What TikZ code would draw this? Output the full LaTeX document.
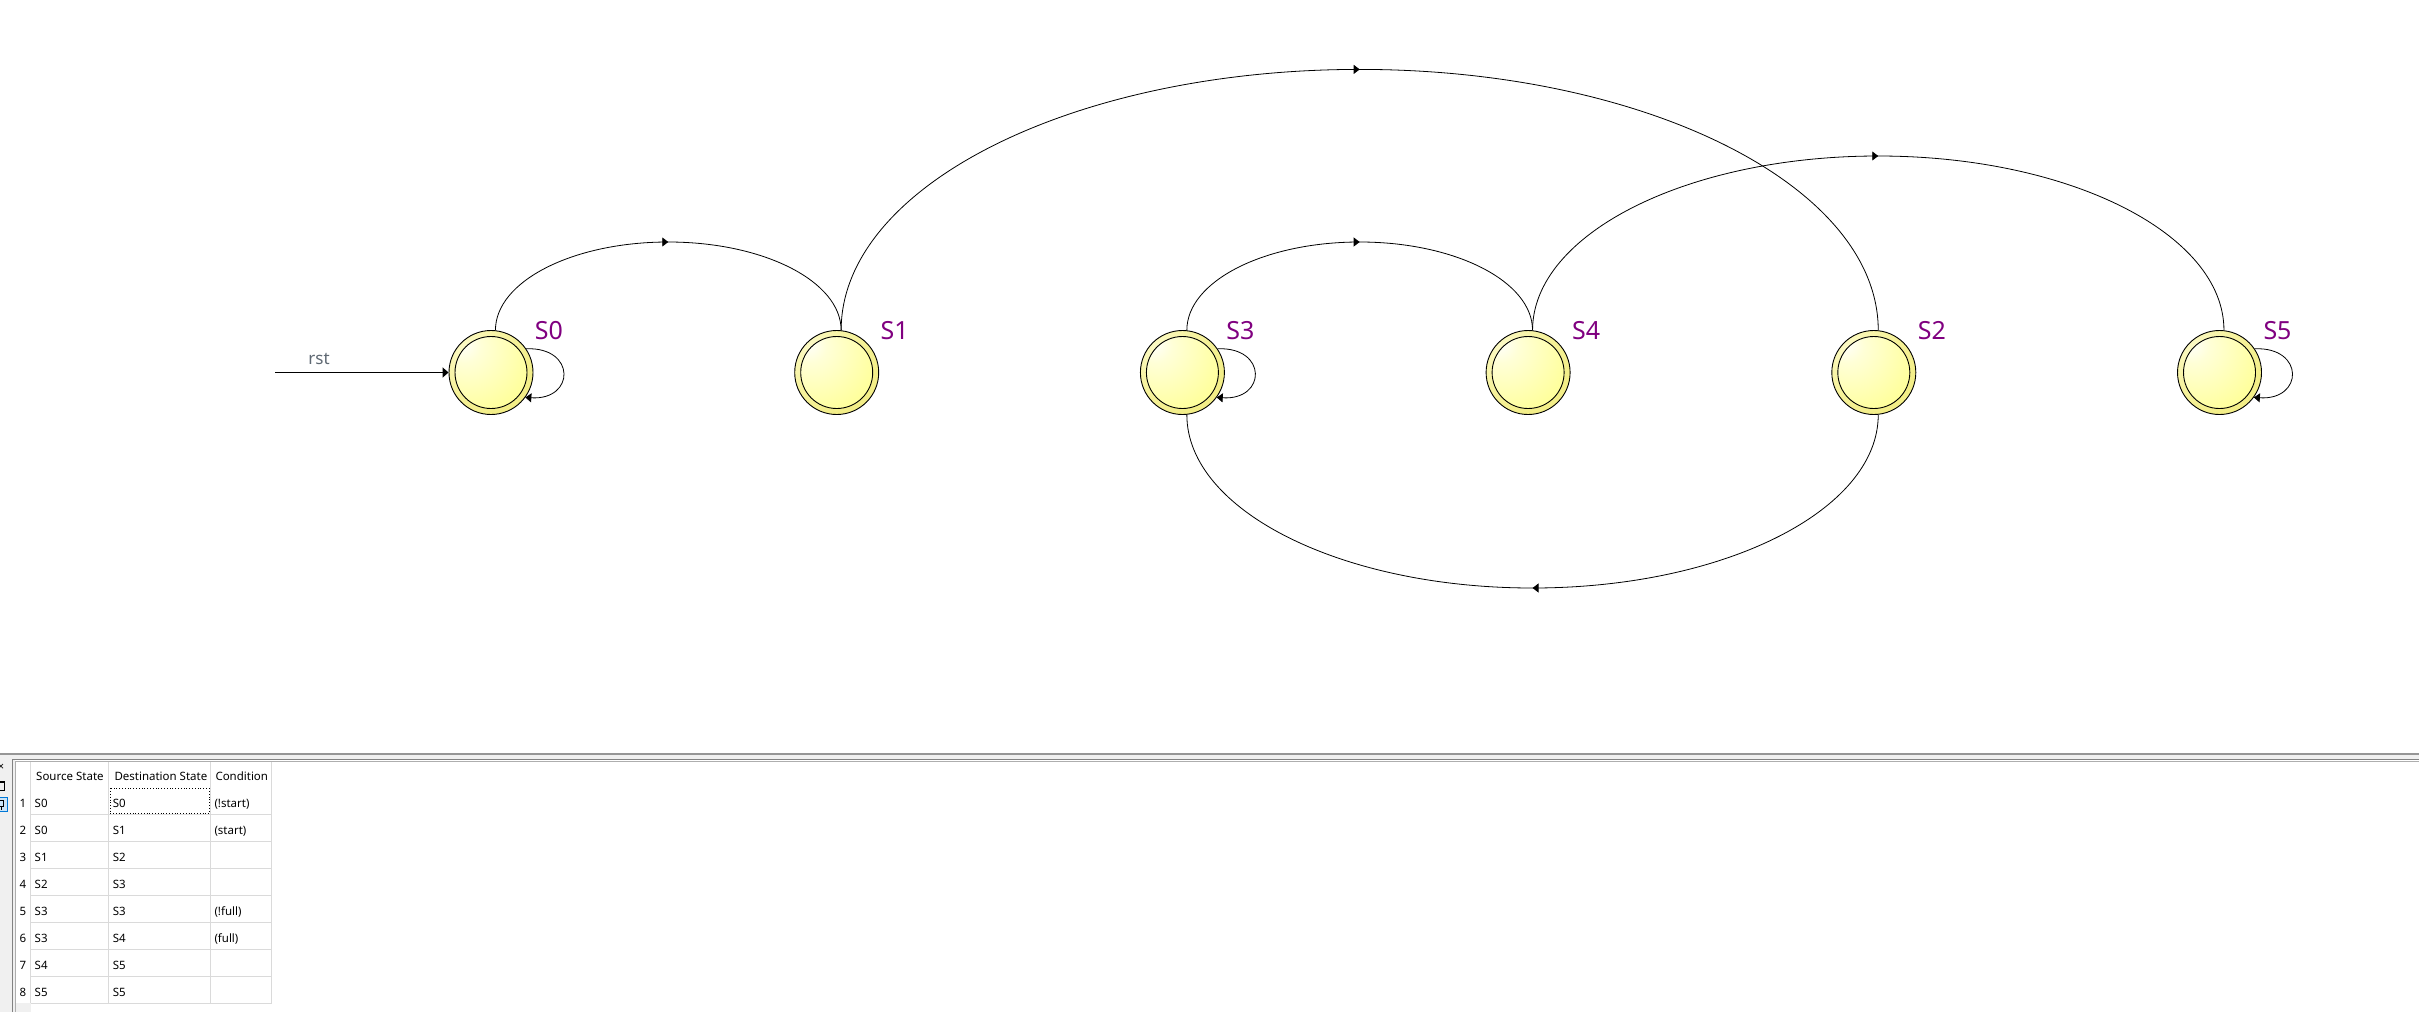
\documentclass[tikz,border=0pt]{standalone}
\usepackage{fontspec}
\setmainfont{Noto Sans}
\usetikzlibrary{arrows.meta,decorations.markings}
\definecolor{purp}{RGB}{128,0,128}
\definecolor{ring}{RGB}{243,238,135}
\definecolor{ringlite}{RGB}{252,250,200}
\definecolor{yel}{RGB}{255,255,150}
\definecolor{yellite}{RGB}{255,255,215}
\definecolor{rstc}{RGB}{95,105,115}
\definecolor{gridc}{RGB}{218,218,218}
\definecolor{panel}{RGB}{240,240,240}
\definecolor{sepdark}{RGB}{150,150,150}
\definecolor{sepmid}{RGB}{130,130,130}
\definecolor{selblue}{RGB}{204,228,247}
\definecolor{selborder}{RGB}{0,120,215}
\pgfdeclareradialshading{ball}{\pgfpoint{-18bp}{18bp}}{color(0bp)=(white); color(10bp)=(yellite); color(38bp)=(yel); color(90bp)=(yel)}
\pgfdeclareradialshading{ringball}{\pgfpoint{-15bp}{15bp}}{color(0bp)=(ringlite); color(35bp)=(ring); color(90bp)=(ring)}
\begin{document}
\begin{tikzpicture}[x=1pt,y=-1pt,
  state/.style={circle, draw=black, line width=0.9pt, minimum size=84pt, inner sep=0pt,
    shade, shading=ringball,
    path picture={\shade[shading=ball] (path picture bounding box.center) circle[radius=36pt];
                  \draw[black,line width=0.9pt] (path picture bounding box.center) circle[radius=36pt];}},
  slabel/.style={text=purp, inner sep=0pt, font=\fontsize{25}{30}\selectfont},
  trans/.style={draw=black, line width=0.8pt, postaction={decorate},
    decoration={markings, mark=at position 0.5 with {\arrow{Triangle[length=6pt,width=9pt]}}}},
  selfloop/.style={draw=black, line width=0.8pt, -{Triangle[length=6pt,width=9pt]}},
  rstline/.style={draw=black, line width=1.8pt, -{Triangle[length=6pt,width=10pt]}},
  cell/.style={anchor=base west, inner sep=0pt, font=\fontsize{11.5}{13}\selectfont},
  num/.style={anchor=base, inner sep=0pt, font=\fontsize{11.5}{13}\selectfont},
  gridline/.style={draw=gridc, line width=1pt}
]
\useasboundingbox (0,0) rectangle (2419,1012);
\fill[white] (0,0) rectangle (2419,1012);

% states
\node[state] (s0) at (491,372.5) {};
\node[state] (s1) at (836.7,372.5) {};
\node[state] (s3) at (1182.4,372.5) {};
\node[state] (s4) at (1528.1,372.5) {};
\node[state] (s2) at (1873.8,372.5) {};
\node[state] (s5) at (2219.5,372.5) {};

\node[slabel] (l0) at (549,331) {S0};
\node[slabel] (l1) at (894.7,331) {S1};
\node[slabel] (l3) at (1240.4,331) {S3};
\node[slabel] (l4) at (1586.1,331) {S4};
\node[slabel] (l2) at (1931.8,331) {S2};
\node[slabel] (l5) at (2277.5,331) {S5};

% reset
\coordinate (rstin) at (275,372.5);
\draw[rstline] (rstin) -- (s0.west);
\node[anchor=base, inner sep=0pt, text=rstc, font=\fontsize{17}{20}\selectfont] (rst) at (319,364) {rst};

% arc midpoints
\coordinate (m01) at (668.2,242);
\coordinate (m12) at (1359.6,69.4);
\coordinate (m34) at (1359.6,242);
\coordinate (m45) at (1878.2,156);
\coordinate (m23) at (1532.5,588);

\path[trans] (s0.84) .. controls +(0,-49) and +(-95.5,0) .. (m01) .. controls +(95.5,0) and +(0,-49) .. (s1.84);
\path[trans] (s1.84) .. controls +(0,-144.3) and +(-286.4,0) .. (m12) .. controls +(286.4,0) and +(0,-144.3) .. (s2.84);
\path[trans] (s3.84) .. controls +(0,-49) and +(-95.5,0) .. (m34) .. controls +(95.5,0) and +(0,-49) .. (s4.84);
\path[trans] (s4.84) .. controls +(0,-96.5) and +(-190.9,0) .. (m45) .. controls +(190.9,0) and +(0,-96.5) .. (s5.84);
\path[trans] (s2.-84) .. controls +(0,95.9) and +(190.9,0) .. (m23) .. controls +(-190.9,0) and +(0,95.9) .. (s3.-84);

% self loops
\draw[selfloop] (s0.34) .. controls +(50,-2) and +(50,3) .. (s0.-36);
\draw[selfloop] (s3.34) .. controls +(50,-2) and +(50,3) .. (s3.-36);
\draw[selfloop] (s5.34) .. controls +(50,-2) and +(50,3) .. (s5.-36);

% separator and panel
\fill[panel] (0,754.5) rectangle (2419,759);
\draw[sepdark, line width=2pt] (0,753.5) -- (2419,753.5);
\fill[panel] (0,759) rectangle (12.3,1012);
\draw[sepmid, line width=1pt] (12.3,1012) -- (12.3,759.5) -- (2419,759.5);
\fill[panel] (12.8,760) rectangle (15,1012);
\draw[gridc!80!black, line width=1pt] (15,1012) -- (15,761.7) -- (2419,761.7);
\fill[panel] (15.5,1003.3) rectangle (30.7,1012);

% tiny toolbar icons (cut off at the left edge)
\node[inner sep=0pt, font=\fontsize{11}{12}\selectfont\bfseries] (ix) at (1,767) {×};
\draw[black, line width=1pt] (-4,781) rectangle (4,790);
\draw[black, line width=2pt] (-4,782) -- (4,782);
\draw[selborder, fill=selblue, line width=0.8pt] (-3,797) rectangle (7.5,811);
\draw[black, line width=1pt] (-2,800) -- (3,800) -- (3,806) -- (-2,806);
\draw[black, line width=1pt] (1,806) -- (1,809.5);

% table grid
\foreach \xx in {30.7,108.7,210.7,271.7} {\draw[gridline] (\xx,762) -- (\xx,1003.3);}
\foreach \k in {0,...,7} {\draw[gridline] (30.7,814.3+27*\k) -- (271.7,814.3+27*\k);}

% header
\node[cell] (h1) at (36,780.7) {Source State};
\node[cell] (h2) at (114.3,780.7) {Destination State};
\node[cell] (h3) at (215.3,780.7) {Condition};

% rows
\foreach \i/\a/\b/\c in {1/S0/S0/{(!start)}, 2/S0/S1/{(start)}, 3/S1/S2/{}, 4/S2/S3/{}, 5/S3/S3/{(!full)}, 6/S3/S4/{(full)}, 7/S4/S5/{}, 8/S5/S5/{}} {
  \node[num] (n\i) at (23,807.3+27*\i-27) {\i};
  \node[cell] (ra\i) at (34.5,807.3+27*\i-27) {\a};
  \node[cell] (rb\i) at (112.7,807.3+27*\i-27) {\b};
  \node[cell] (rc\i) at (214.3,807.3+27*\i-27) {\c};
}

% focus box
\draw[black, line width=0.8pt, dotted] (110,788.3) rectangle (209,813.3);
\end{tikzpicture}
\end{document}
